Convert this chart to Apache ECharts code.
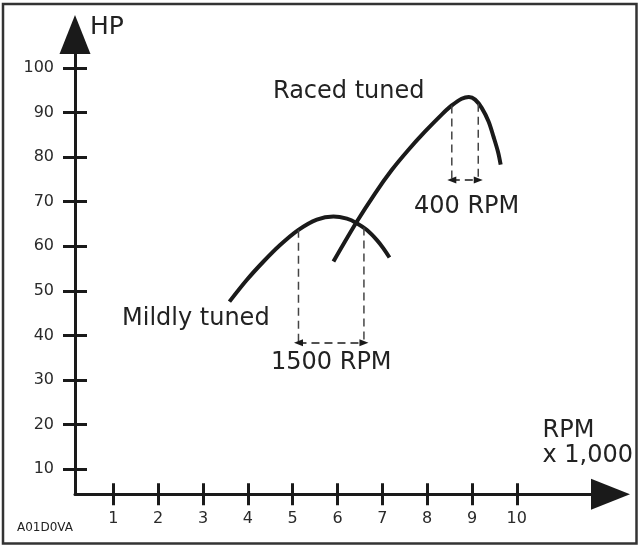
<!DOCTYPE html>
<html><head><meta charset="utf-8">
<script src="https://cdn.jsdelivr.net/npm/echarts@6/dist/echarts.min.js"></script>
<style>html,body{margin:0;padding:0;background:#fff}#c{width:640px;height:546px}</style>
</head><body><div id="c"></div>
<script>
// ---- data ----
const xTicks = [1, 2, 3, 4, 5, 6, 7, 8, 9, 10];
const yTicks = [10, 20, 30, 40, 50, 60, 70, 80, 90, 100];
const mildX = [3.59, 3.98, 4.35, 4.72, 5.13, 5.54, 5.91, 6.21, 6.43, 6.65, 6.88, 7.02, 7.16];
const mildY = [47.6, 52.5, 56.6, 60.3, 63.7, 66.0, 66.7, 66.2, 65.2, 63.7, 61.4, 59.6, 57.5];
const racedX = [5.91, 6.43, 6.84, 7.21, 7.58, 7.95, 8.33, 8.55, 8.77, 8.93, 9.07, 9.22, 9.37, 9.48, 9.58, 9.64];
const racedY = [56.6, 65.5, 71.9, 77.1, 81.6, 85.7, 89.6, 91.6, 93.1, 93.5, 92.9, 91.0, 88.0, 84.6, 81.2, 78.3];
const mildSpanX = [5.13, 6.59];
const mildSpanTop = [63.7, 64.2];
const mildSpanY = 38.4;
const racedSpanX = [8.55, 9.14];
const racedSpanTop = [91.6, 92.0];
const racedSpanY = 74.9;
const labels = {hp: 'HP', raced: 'Raced tuned', mild: 'Mildly tuned', mildSpan: '1500 RPM', racedSpan: '400 RPM', rpm: 'RPM', rpmUnit: 'x 1,000', code: 'A01D0VA'};

// ---- chart ----
const FONT = 'DejaVu Sans';
const DARK = '#1a1a1a';
const chart = echarts.init(document.getElementById('c'), null, {renderer: 'canvas'});
const zip = (xs, ys) => xs.map((x, i) => [x, ys[i]]);

function axisPair(dim, min, max, ticks, tickLen, labelMargin) {
  const main = {
    type: 'value', min: min, max: max,
    position: dim === 'x' ? 'bottom' : 'left',
    axisLine: {show: true, onZero: false, symbol: ['none', 'triangle'], symbolSize: [31, 39],
      lineStyle: {color: DARK, width: 3}},
    axisTick: {show: true, customValues: ticks, length: tickLen, inside: false,
      lineStyle: {color: DARK, width: 3}},
    axisLabel: {show: true, customValues: ticks, margin: labelMargin, fontSize: 16,
      fontFamily: FONT, color: '#2a2a2a'},
    splitLine: {show: false}
  };
  const inner = {
    type: 'value', min: min, max: max,
    position: dim === 'x' ? 'bottom' : 'left',
    axisLine: {show: false, onZero: false},
    axisTick: {show: true, customValues: ticks, length: tickLen, inside: true,
      lineStyle: {color: DARK, width: 3}},
    axisLabel: {show: false},
    splitLine: {show: false}
  };
  return [main, inner];
}

function vline(x, top, bottom) {
  return {type: 'line', xAxisIndex: 0, yAxisIndex: 0, data: [[x, top], [x, bottom]],
    symbol: 'none', silent: true,
    lineStyle: {color: '#444', width: 1.5, type: [8, 5]}};
}

const series = [
  {type: 'line', name: 'mild', data: zip(mildX, mildY), smooth: 0.33, symbol: 'none',
    lineStyle: {color: DARK, width: 4, cap: 'butt', join: 'round'}},
  {type: 'line', name: 'raced', data: zip(racedX, racedY), smooth: 0.33, symbol: 'none',
    lineStyle: {color: DARK, width: 4, cap: 'butt', join: 'round'}},
  vline(mildSpanX[0], mildSpanTop[0], mildSpanY),
  vline(mildSpanX[1], mildSpanTop[1], mildSpanY),
  vline(racedSpanX[0], racedSpanTop[0], racedSpanY),
  vline(racedSpanX[1], racedSpanTop[1], racedSpanY),
  {type: 'line', data: [], symbol: 'none',
    markLine: {silent: true, symbol: ['triangle', 'triangle'], symbolSize: [7, 9],
      label: {show: false},
      lineStyle: {color: DARK, width: 1.5, type: [8, 5]},
      data: [
        [{coord: [mildSpanX[0], mildSpanY]}, {coord: [mildSpanX[1], mildSpanY]}],
        [{coord: [racedSpanX[0], racedSpanY]}, {coord: [racedSpanX[1], racedSpanY]}]
      ]}}
];

function txt(x, y, s, size) {
  return {type: 'text', x: x, y: y, silent: true,
    style: {text: s, font: size + 'px "' + FONT + '"', fill: '#222', align: 'left', verticalAlign: 'middle'}};
}

chart.setOption({
  animation: false,
  backgroundColor: '#fff',
  grid: {left: 75, right: 29.5, top: 34.5, bottom: 51.7, containLabel: false},
  xAxis: axisPair('x', 0.145, 12.09, xTicks, 11, 17),
  yAxis: axisPair('y', 4.4, 107.5, yTicks, 12, 21),
  series: series,
  graphic: [
    {type: 'rect', shape: {x: 3, y: 4, width: 633.5, height: 539.5}, silent: true,
      style: {fill: 'none', stroke: '#333', lineWidth: 2.5}},
    txt(90, 27.6, labels.hp, 25),
    txt(273, 92, labels.raced, 24),
    txt(122, 318.6, labels.mild, 24),
    txt(271, 363, labels.mildSpan, 24),
    txt(414, 206.6, labels.racedSpan, 24),
    txt(542.5, 430.3, labels.rpm, 24),
    txt(542.5, 455.6, labels.rpmUnit, 24),
    txt(17, 527.5, labels.code, 12)
  ]
});
</script></body></html>
